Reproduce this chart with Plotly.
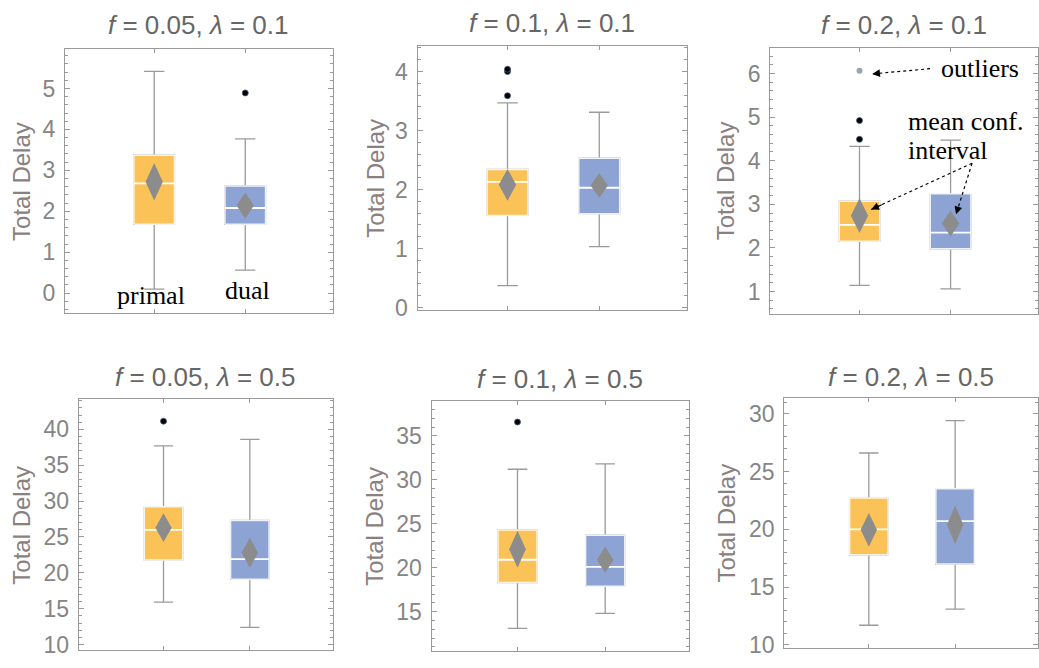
import plotly.graph_objects as go

W, H = 1039, 668

# ---------------- data ----------------
titles = ["<i>f</i> = 0.05, <i>λ</i> = 0.1", "<i>f</i> = 0.1, <i>λ</i> = 0.1", "<i>f</i> = 0.2, <i>λ</i> = 0.1",
          "<i>f</i> = 0.05, <i>λ</i> = 0.5", "<i>f</i> = 0.1, <i>λ</i> = 0.5", "<i>f</i> = 0.2, <i>λ</i> = 0.5"]
methods = ["primal", "dual"]

# per panel: [primal, dual]
lower_fence = [[0.10, 0.56], [0.37, 1.03], [1.14, 1.06], [15.9, 12.4], [13.1, 14.8], [11.7, 13.1]]
q1_vals     = [[1.68, 1.68], [1.56, 1.59], [2.15, 1.98], [21.8, 19.1], [18.3, 17.9], [17.8, 17.0]]
medians     = [[2.68, 2.08], [2.13, 2.03], [2.53, 2.35], [26.0, 21.9], [20.9, 20.1], [20.0, 20.7]]
q3_vals     = [[3.37, 2.62], [2.34, 2.53], [3.07, 3.24], [29.2, 27.3], [24.3, 23.7], [22.7, 23.5]]
upper_fence = [[5.42, 3.77], [3.47, 3.31], [4.33, 4.47], [37.7, 38.6], [31.2, 31.8], [26.6, 29.4]]
means       = [[2.72, 2.14], [2.08, 2.07], [2.74, 2.56], [26.3, 22.8], [22.1, 20.9], [19.96, 20.4]]
mean_ci     = [[0.46, 0.32], [0.27, 0.21], [0.40, 0.30], [2.0, 2.1], [2.1, 1.5], [1.46, 1.67]]
outliers    = [[[], [4.89]], [[3.59, 4.0, 4.04], []], [[4.49, 4.92], []],
               [[41.15], []], [[36.57], []], [[], []]]
far_outliers = [[[], []], [[], []], [[6.06], []], [[], []], [[], []], [[], []]]

y_ranges = [[-0.48, 5.96], [-0.04, 4.43], [0.49, 6.58], [9.22, 44.2], [10.51, 38.93], [9.72, 31.33]]
y_dticks = [1, 1, 1, 5, 5, 5]
y_minor = [0.2, 0.2, 0.2, 1, 1, 1]

# ---------------- layout constants ----------------
frames = [(65, 333, 50, 318), (418, 688, 47, 315), (771, 1039, 49, 319),
          (79, 333, 406, 661), (432, 690, 408, 662), (785, 1039, 405, 659)]
title_y = [25, 23, 25, 383, 385, 383]
ytitle_x = [22, 375, 727, 22, 375, 727]
colors = ["#FBC357", "#8CA3D3"]
box_w = 0.446
diam_hw = 0.095
X_RANGE = [-0.98, 1.96]

fig = go.Figure()
annotations = []

for p in range(6):
    xa = "x" if p == 0 else f"x{p+1}"
    ya = "y" if p == 0 else f"y{p+1}"
    for i in range(2):
        c = i
        col = colors[i]
        fig.add_trace(go.Box(
            x=[c], q1=[q1_vals[p][i]], median=[medians[p][i]], q3=[q3_vals[p][i]],
            lowerfence=[lower_fence[p][i]], upperfence=[upper_fence[p][i]],
            width=box_w, whiskerwidth=0.5, fillcolor=col,
            line=dict(color="#9a9a9a", width=1.3), boxpoints=False,
            xaxis=xa, yaxis=ya, showlegend=False, hoverinfo="skip"))
        # box face (covers outline)
        l, r = c - box_w / 2, c + box_w / 2
        fig.add_trace(go.Scatter(
            x=[l, r, r, l, l], y=[q1_vals[p][i], q1_vals[p][i], q3_vals[p][i], q3_vals[p][i], q1_vals[p][i]],
            fill="toself", fillcolor=col, mode="lines",
            line=dict(color="rgba(255,255,255,0.85)", width=1.5),
            xaxis=xa, yaxis=ya, showlegend=False, hoverinfo="skip"))
        # median line
        fig.add_trace(go.Scatter(
            x=[l, r], y=[medians[p][i], medians[p][i]], mode="lines",
            line=dict(color="white", width=1.8),
            xaxis=xa, yaxis=ya, showlegend=False, hoverinfo="skip"))
        # mean confidence diamond
        m, h = means[p][i], mean_ci[p][i]
        fig.add_trace(go.Scatter(
            x=[c, c + diam_hw, c, c - diam_hw, c], y=[m + h, m, m - h, m, m + h],
            fill="toself", fillcolor="#8C8C8C", mode="lines", line=dict(width=0, color="#8C8C8C"),
            xaxis=xa, yaxis=ya, showlegend=False, hoverinfo="skip"))
        if outliers[p][i]:
            fig.add_trace(go.Scatter(
                x=[c] * len(outliers[p][i]), y=outliers[p][i], mode="markers",
                marker=dict(color="black", size=6, line=dict(color="#4a5a7a", width=0.8)),
                xaxis=xa, yaxis=ya, showlegend=False, hoverinfo="skip"))
        if far_outliers[p][i]:
            fig.add_trace(go.Scatter(
                x=[c] * len(far_outliers[p][i]), y=far_outliers[p][i], mode="markers",
                marker=dict(color="#9aa3b3", size=6),
                xaxis=xa, yaxis=ya, showlegend=False, hoverinfo="skip"))

    x0, x1, y0, y1 = frames[p]
    axis_common = dict(showgrid=False, zeroline=False, showline=True, linecolor="#9a9a9a",
                       linewidth=1.3, mirror="ticks", ticks="inside", tickcolor="#9a9a9a")
    fig.layout[("xaxis" if p == 0 else f"xaxis{p+1}")] = dict(
        domain=[x0 / W, x1 / W], range=X_RANGE, tickvals=[0, 1], ticklen=4,
        showticklabels=False, anchor=ya, fixedrange=True, **axis_common)
    fig.layout[("yaxis" if p == 0 else f"yaxis{p+1}")] = dict(
        domain=[1 - y1 / H, 1 - y0 / H], range=y_ranges[p], tick0=0, dtick=y_dticks[p],
        ticklen=5, anchor=xa, ticklabelstandoff=4,
        tickfont=dict(family="Liberation Sans, Arial", size=23, color="#858585"),
        minor=dict(dtick=y_minor[p], tick0=0, ticks="inside", ticklen=3, tickcolor="#9a9a9a"),
        **axis_common)

    annotations.append(dict(text=titles[p], xref="paper", yref="paper",
                            x=(x0 + x1) / 2 / W, y=1 - title_y[p] / H, showarrow=False,
                            xanchor="center", yanchor="middle",
                            font=dict(family="Liberation Sans, Arial", size=26, color="#666666")))
    annotations.append(dict(text="Total Delay", xref="paper", yref="paper",
                            x=ytitle_x[p] / W, y=1 - (y0 + y1) / 2 / H, showarrow=False,
                            textangle=-90, xanchor="center", yanchor="middle",
                            font=dict(family="Liberation Sans, Arial", size=24, color="#8a8080")))

# method labels in first panel
serif = dict(family="Liberation Serif, Times New Roman", size=26, color="black")
annotations.append(dict(text=methods[0], xref="x", yref="y", x=-0.03, y=-0.05,
                        showarrow=False, font=serif, xanchor="center", yanchor="middle"))
annotations.append(dict(text=methods[1], xref="x", yref="y", x=1.03, y=0.07,
                        showarrow=False, font=serif, xanchor="center", yanchor="middle"))

# explanatory notes in third panel
annotations.append(dict(text="outliers", xref="x3", yref="y3", x=0.874, y=6.11,
                        showarrow=False, font=serif, xanchor="left", yanchor="middle"))
annotations.append(dict(text="mean conf.", xref="x3", yref="y3", x=0.512, y=4.91,
                        showarrow=False, font=serif, xanchor="left", yanchor="middle"))
annotations.append(dict(text="interval", xref="x3", yref="y3", x=0.512, y=4.23,
                        showarrow=False, font=serif, xanchor="left", yanchor="middle"))

arrows = [((0.775, 6.11), (0.139, 5.99)), ((1.236, 3.94), (0.128, 2.88)), ((1.236, 3.94), (1.06, 2.77))]
shapes = []
for (tx, ty), (hx, hy) in arrows:
    shapes.append(dict(type="line", xref="x3", yref="y3", x0=tx, y0=ty, x1=hx, y1=hy,
                       line=dict(color="black", width=1.2, dash="dot")))
    annotations.append(dict(x=hx, y=hy, xref="x3", yref="y3", ax=hx + (tx - hx) * 0.12,
                            ay=hy + (ty - hy) * 0.12, axref="x3", ayref="y3", text="",
                            showarrow=True, arrowhead=2, arrowsize=1.3, arrowwidth=1.2,
                            arrowcolor="black"))

fig.update_layout(width=W, height=H, margin=dict(l=0, r=0, t=0, b=0),
                  paper_bgcolor="white", plot_bgcolor="white",
                  annotations=annotations, shapes=shapes, showlegend=False)

fig.write_html("out.html")
